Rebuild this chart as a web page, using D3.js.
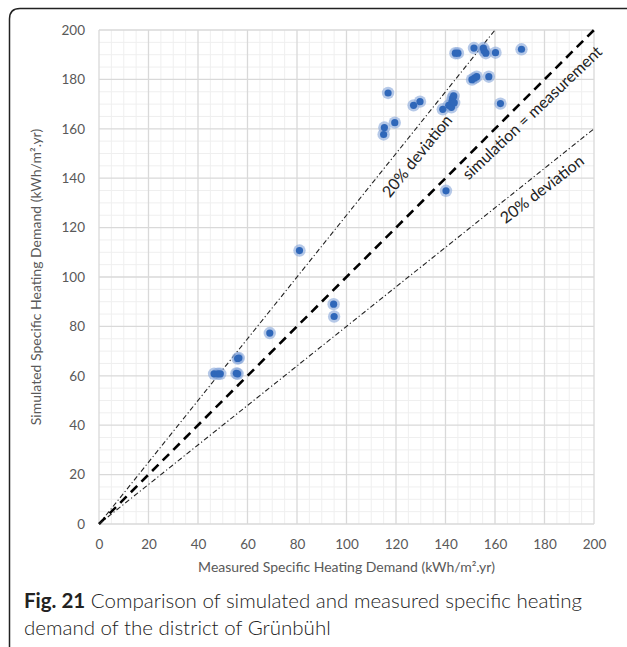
<!DOCTYPE html>
<html><head><meta charset="utf-8">
<script src="https://cdn.jsdelivr.net/npm/d3@7"></script>
<style>body{margin:0;background:#fff}svg{display:block}</style>
</head><body>
<svg id="chart" width="627" height="647"></svg>
<script>
const measured = [46.5,48,49,55.5,56,56,56.5,69,81,94.8,95,
  116.8,115.3,115,119.5,127.1,129.7,138.9,141.3,142.4,142.9,143.3,142.6,143.5,140.2,
  144,145,151.5,155.3,155.6,156.3,160.2,170.7,150.7,151.7,152.6,157.5,162.2];
const simulated = [60.8,60.8,60.8,61,60.8,67,67.2,77.3,110.7,89,84,
  174.5,160.5,157.7,162.5,169.5,171,167.9,169.5,168.7,172.4,173.3,171,170.5,134.9,
  190.6,190.6,192.7,192.7,191.6,190.6,190.8,192.2,179.9,180.5,181.1,181.1,170.2];
const xTicks = [0,20,40,60,80,100,120,140,160,180,200];
const yTicks = [0,20,40,60,80,100,120,140,160,180,200];
const refSlopes = [1.25, 1, 0.8];
const refLabels = ["20% deviation","simulation = measurement","20% deviation"];
const refLabelPos = [[128.5,149],[175,166.5],[179,135.5]];
const xTitle = "Measured Specific Heating Demand (kWh/m².yr)";
const yTitle = "Simulated Specific Heating Demand (kWh/m².yr)";
const captionBold = "Fig. 21";
const captionLine1 = " Comparison of simulated and measured specific heating";
const captionLine2 = "demand of the district of Grünbühl";

const svg = d3.select("#chart");
const font = "Lato, 'Open Sans', sans-serif";
const x = d3.scaleLinear().domain([0,200]).range([99,594]);
const y = d3.scaleLinear().domain([0,200]).range([524,30]);

svg.append("rect").attr("width",627).attr("height",647).attr("fill","#fff");
// frame
svg.append("path").attr("d","M9.5,647 V19 Q9.5,8.5 20,8.5 H627")
  .attr("fill","none").attr("stroke","#222").attr("stroke-width",1.5);

// minor grid
const minor = d3.range(0,201,5).filter(v=>v%20!==0);
const g = svg.append("g");
g.selectAll(".mx").data(minor).join("line")
  .attr("x1",d=>x(d)).attr("x2",d=>x(d)).attr("y1",y(0)).attr("y2",y(200))
  .attr("stroke","#efefef").attr("stroke-width",1);
g.selectAll(".my").data(minor).join("line")
  .attr("y1",d=>y(d)).attr("y2",d=>y(d)).attr("x1",x(0)).attr("x2",x(200))
  .attr("stroke","#efefef").attr("stroke-width",1);
// major grid
g.selectAll(".Mx").data(xTicks).join("line")
  .attr("x1",d=>x(d)).attr("x2",d=>x(d)).attr("y1",y(0)).attr("y2",y(200))
  .attr("stroke","#d9d9d9").attr("stroke-width",1.3);
g.selectAll(".My").data(yTicks).join("line")
  .attr("y1",d=>y(d)).attr("y2",d=>y(d)).attr("x1",x(0)).attr("x2",x(200))
  .attr("stroke","#d9d9d9").attr("stroke-width",1.3);

// axes (labels only)
const xAxis = d3.axisBottom(x).tickValues(xTicks).tickSize(0).tickPadding(0);
const ax = svg.append("g").attr("transform",`translate(0,${y(0)+15})`).call(xAxis);
const yAxis = d3.axisLeft(y).tickValues(yTicks).tickSize(0).tickPadding(0);
const ay = svg.append("g").attr("transform",`translate(${x(0)-14},0)`).call(yAxis);
[ax,ay].forEach(a=>{a.select(".domain").remove();
  a.selectAll("text").attr("fill","#595959").style("font-family",font).style("font-size","13.5px");});

// reference lines
const line = d3.line().x(d=>x(d[0])).y(d=>y(d[1]));
refSlopes.forEach((s,i)=>{
  const xEnd = Math.min(200, 200/s);
  svg.append("path").attr("d",line([[0,0],[xEnd,xEnd*s]]))
    .attr("fill","none")
    .attr("stroke", s===1 ? "#000" : "#222")
    .attr("stroke-width", s===1 ? 2.6 : 1.1)
    .attr("stroke-dasharray", s===1 ? "9,6" : "5,2.5,1.2,2.5");
});

// points
const pts = measured.map((m,i)=>[m, simulated[i]]);
svg.append("g").selectAll("circle").data(pts).join("circle")
  .attr("cx",d=>x(d[0])).attr("cy",d=>y(d[1])).attr("r",6.2)
  .attr("fill","#86a5d9").attr("fill-opacity",0.6);
svg.append("g").selectAll("circle").data(pts).join("circle")
  .attr("cx",d=>x(d[0])).attr("cy",d=>y(d[1])).attr("r",3.6)
  .attr("fill","#2f67b9");

// reference labels
const angles = [-51, -43.5, -37.5];
refLabelPos.forEach((p,i)=>{
  svg.append("text")
    .attr("transform",`translate(${x(p[0])},${y(p[1])}) rotate(${angles[i]})`)
    .attr("text-anchor","middle").attr("dy","0.35em")
    .attr("fill","#222").style("font-family",font).style("font-size","16px")
    .text(refLabels[i]);
});

// axis titles
svg.append("text").attr("x",(x(0)+x(200))/2).attr("y",572)
  .attr("text-anchor","middle").attr("fill","#595959")
  .style("font-family",font).style("font-size","14px").text(xTitle);
svg.append("text").attr("transform",`translate(41,${(y(0)+y(200))/2}) rotate(-90)`)
  .attr("text-anchor","middle").attr("fill","#595959")
  .style("font-family",font).style("font-size","14px").text(yTitle);

// caption
const cap = svg.append("text").attr("x",24).attr("y",608)
  .attr("fill","#222").style("font-family",font).style("font-size","20.5px").style("font-weight",300);
cap.append("tspan").style("font-weight",700).text(captionBold);
cap.append("tspan").text(captionLine1);
svg.append("text").attr("x",24).attr("y",635)
  .attr("fill","#222").style("font-family",font).style("font-size","20.5px").style("font-weight",300)
  .text(captionLine2);
</script>
</body></html>
